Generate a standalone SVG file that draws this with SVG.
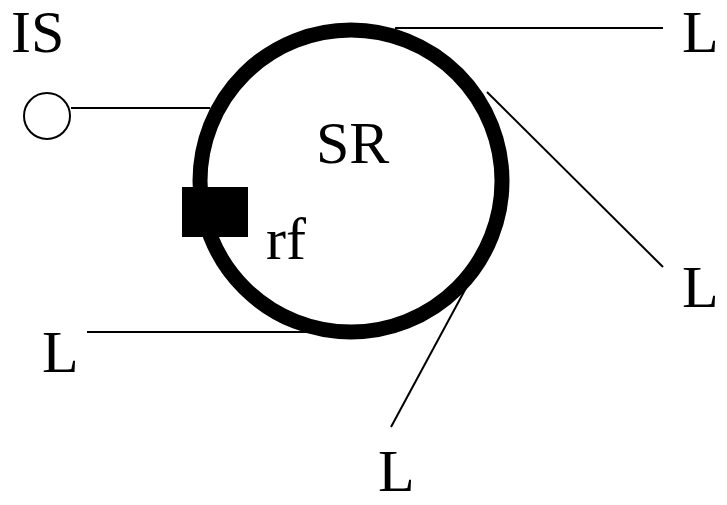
<svg xmlns="http://www.w3.org/2000/svg" width="727" height="505" viewBox="0 0 727 505">
<style>
.t{font-family:"Liberation Serif","Times New Roman",serif;font-size:60px;fill:#000}
.c{stroke:#000;stroke-width:2;fill:none}
</style>
<rect width="727" height="505" fill="#fff"/>
<g id="connectors">
<line class="c" x1="71" y1="108" x2="210" y2="108"/>
<line class="c" x1="395" y1="28" x2="663" y2="28"/>
<line class="c" x1="487" y1="92" x2="663" y2="267"/>
<line class="c" x1="87" y1="332" x2="310" y2="332"/>
<line class="c" x1="466" y1="288" x2="391" y2="427"/>
</g>
<g id="SR">
<circle cx="351" cy="181" r="151" fill="none" stroke="#000" stroke-width="15"/>
<text class="t" x="316" y="163">SR</text>
</g>
<g id="rf">
<rect x="182" y="187" width="66" height="50" fill="#000"/>
<text class="t" x="266" y="259">rf</text>
</g>
<g id="IS">
<circle cx="47" cy="116" r="23" fill="#fff" stroke="#000" stroke-width="2"/>
<text class="t" x="11" y="52">IS</text>
</g>
<g id="L1"><text class="t" x="682" y="52">L</text></g>
<g id="L2"><text class="t" x="682" y="307">L</text></g>
<g id="L3"><text class="t" x="42" y="372">L</text></g>
<g id="L4"><text class="t" x="378" y="491">L</text></g>
</svg>
